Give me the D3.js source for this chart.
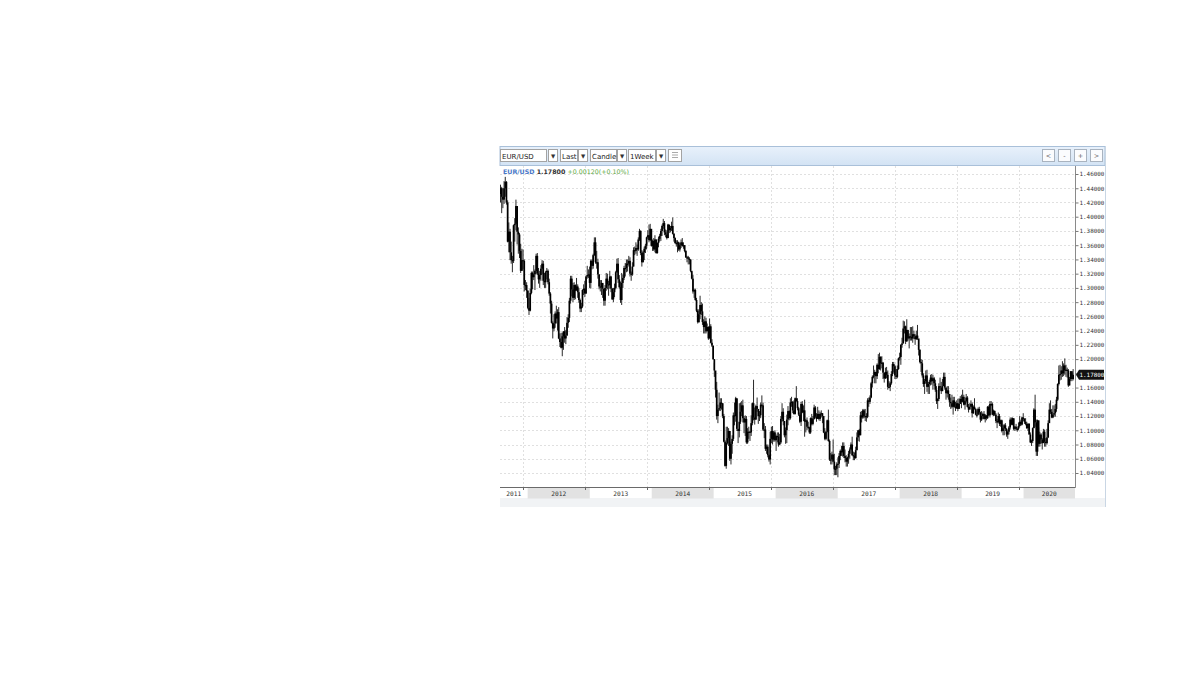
<!DOCTYPE html>
<html><head><meta charset="utf-8">
<script src="https://cdn.jsdelivr.net/npm/d3@7"></script>
<style>html,body{margin:0;padding:0;background:#fff;} svg{display:block}</style>
</head><body>
<svg id="c" width="1200" height="675"></svg>
<script>
// ---------------- data ----------------
const symbol = "EUR/USD";
const lastPrice = "1.17800";
const lastChange = "+0.00120(+0.10%)";
const toolbarFields = ["EUR/USD", "Last", "Candle", "1Week"];
const navButtons = ["<", "-", "+", ">"];
const yTickValues = [1.04,1.06,1.08,1.10,1.12,1.14,1.16,1.18,1.20,1.22,1.24,1.26,1.28,1.30,1.32,1.34,1.36,1.38,1.40,1.42,1.44,1.46];
const years = [2011,2012,2013,2014,2015,2016,2017,2018,2019,2020];
const firstWeek = new Date(2011, 6, 25);
const firstOpen = 1.432;
const closes = [
1.440,1.428,1.424,1.440,1.449,1.420,1.365,1.379,1.350,1.339,
1.338,1.388,1.390,1.415,1.379,1.375,1.352,1.324,1.339,1.338,
1.304,1.304,1.296,1.272,1.268,1.293,1.321,1.315,1.319,1.324,
1.345,1.320,1.312,1.318,1.327,1.334,1.310,1.308,1.322,1.324,
1.308,1.292,1.278,1.251,1.243,1.250,1.264,1.257,1.266,1.229,
1.224,1.216,1.232,1.239,1.229,1.233,1.251,1.258,1.282,1.313,
1.298,1.286,1.304,1.296,1.302,1.294,1.283,1.271,1.274,1.297,
1.299,1.292,1.316,1.318,1.319,1.307,1.338,1.331,1.346,1.364,
1.336,1.336,1.319,1.302,1.301,1.307,1.299,1.282,1.300,1.313,
1.305,1.304,1.316,1.299,1.284,1.294,1.300,1.322,1.334,1.312,
1.301,1.283,1.307,1.314,1.328,1.328,1.334,1.334,1.338,1.320,
1.319,1.330,1.353,1.352,1.356,1.354,1.368,1.380,1.349,1.336,
1.350,1.355,1.359,1.371,1.374,1.367,1.383,1.359,1.366,1.354,
1.368,1.349,1.363,1.369,1.373,1.380,1.387,1.391,1.378,1.375,
1.370,1.389,1.381,1.384,1.387,1.376,1.370,1.363,1.363,1.364,
1.354,1.360,1.364,1.359,1.360,1.352,1.343,1.343,1.341,1.340,
1.324,1.313,1.295,1.297,1.283,1.268,1.252,1.263,1.276,1.267,
1.252,1.245,1.253,1.239,1.245,1.229,1.246,1.223,1.219,1.200,
1.184,1.157,1.120,1.129,1.131,1.139,1.138,1.120,1.084,1.050,
1.082,1.089,1.099,1.060,1.081,1.088,1.121,1.120,1.145,1.102,
1.099,1.112,1.126,1.135,1.117,1.111,1.116,1.083,1.098,1.098,
1.097,1.110,1.138,1.118,1.115,1.134,1.130,1.120,1.121,1.136,
1.135,1.101,1.101,1.074,1.077,1.065,1.059,1.088,1.099,1.087,
1.097,1.086,1.092,1.091,1.080,1.083,1.116,1.126,1.113,1.093,
1.100,1.115,1.127,1.117,1.139,1.140,1.128,1.123,1.145,1.141,
1.131,1.122,1.112,1.137,1.125,1.128,1.112,1.114,1.105,1.104,
1.097,1.117,1.109,1.116,1.132,1.119,1.116,1.123,1.116,1.123,
1.124,1.120,1.097,1.088,1.098,1.114,1.085,1.059,1.059,1.066,
1.056,1.045,1.046,1.052,1.053,1.064,1.071,1.069,1.078,1.064,
1.061,1.056,1.062,1.067,1.073,1.080,1.065,1.064,1.061,1.072,
1.090,1.100,1.093,1.121,1.118,1.128,1.120,1.120,1.119,1.142,
1.140,1.146,1.166,1.175,1.177,1.182,1.176,1.192,1.186,1.203,
1.194,1.195,1.181,1.173,1.182,1.178,1.161,1.161,1.166,1.179,
1.193,1.190,1.177,1.175,1.186,1.201,1.203,1.220,1.222,1.243,
1.246,1.225,1.241,1.229,1.232,1.231,1.229,1.235,1.232,1.228,
1.233,1.229,1.213,1.196,1.194,1.177,1.165,1.169,1.177,1.161,
1.165,1.168,1.174,1.169,1.173,1.166,1.157,1.141,1.144,1.162,
1.160,1.155,1.162,1.175,1.160,1.152,1.156,1.151,1.140,1.138,
1.133,1.142,1.133,1.131,1.138,1.130,1.137,1.144,1.140,1.147,
1.136,1.141,1.146,1.133,1.129,1.133,1.137,1.124,1.133,1.130,
1.122,1.122,1.130,1.125,1.115,1.120,1.123,1.116,1.121,1.117,
1.133,1.121,1.137,1.137,1.122,1.127,1.122,1.113,1.111,1.120,
1.109,1.114,1.099,1.103,1.107,1.102,1.094,1.098,1.104,1.115,
1.108,1.117,1.102,1.105,1.102,1.102,1.106,1.112,1.108,1.118,
1.116,1.112,1.109,1.103,1.109,1.094,1.083,1.085,1.103,1.129,
1.111,1.070,1.114,1.081,1.094,1.087,1.082,1.098,1.084,1.082,
1.090,1.110,1.129,1.126,1.118,1.122,1.124,1.130,1.143,1.165,
1.178,1.179,1.184,1.180,1.191,1.184,1.185,1.184,1.163,1.172,
1.183,1.172,1.178];
const highs = [
1.445,1.442,1.440,1.450,1.456,1.450,1.423,1.392,1.383,1.365,
1.345,1.389,1.398,1.424,1.415,1.385,1.377,1.362,1.355,1.354,
1.340,1.311,1.308,1.297,1.286,1.299,1.323,1.323,1.332,1.326,
1.348,1.349,1.328,1.324,1.332,1.339,1.338,1.321,1.324,1.328,
1.326,1.313,1.294,1.282,1.253,1.263,1.267,1.275,1.270,1.273,
1.236,1.237,1.237,1.239,1.245,1.241,1.259,1.263,1.286,1.317,
1.317,1.307,1.308,1.305,1.314,1.305,1.300,1.285,1.279,1.298,
1.305,1.310,1.317,1.331,1.326,1.330,1.340,1.340,1.348,1.371,
1.371,1.352,1.341,1.319,1.311,1.311,1.306,1.299,1.304,1.321,
1.320,1.310,1.324,1.317,1.300,1.300,1.306,1.324,1.341,1.342,
1.318,1.309,1.321,1.319,1.331,1.335,1.340,1.340,1.345,1.343,
1.323,1.336,1.357,1.358,1.364,1.361,1.371,1.383,1.381,1.353,
1.352,1.358,1.362,1.372,1.381,1.389,1.390,1.382,1.368,1.370,
1.374,1.368,1.364,1.372,1.376,1.383,1.389,1.397,1.394,1.382,
1.381,1.390,1.386,1.387,1.393,1.399,1.377,1.371,1.367,1.367,
1.365,1.363,1.368,1.370,1.364,1.360,1.353,1.345,1.345,1.343,
1.340,1.322,1.318,1.299,1.299,1.286,1.270,1.270,1.289,1.280,
1.278,1.256,1.260,1.258,1.250,1.246,1.257,1.249,1.228,1.218,
1.195,1.183,1.168,1.136,1.153,1.145,1.145,1.138,1.123,1.086,
1.105,1.105,1.103,1.099,1.084,1.093,1.125,1.139,1.147,1.144,
1.101,1.138,1.139,1.141,1.143,1.120,1.121,1.120,1.103,1.105,
1.099,1.121,1.139,1.171,1.132,1.136,1.146,1.129,1.127,1.139,
1.149,1.139,1.110,1.106,1.080,1.080,1.066,1.098,1.105,1.106,
1.099,1.100,1.094,1.097,1.097,1.095,1.120,1.138,1.131,1.113,
1.104,1.122,1.134,1.128,1.145,1.147,1.141,1.142,1.146,1.162,
1.145,1.133,1.125,1.140,1.141,1.135,1.143,1.116,1.118,1.112,
1.105,1.118,1.123,1.120,1.136,1.134,1.124,1.133,1.128,1.126,
1.128,1.124,1.114,1.103,1.099,1.115,1.129,1.087,1.068,1.070,
1.087,1.067,1.050,1.055,1.062,1.068,1.073,1.078,1.083,1.083,
1.073,1.065,1.063,1.071,1.076,1.083,1.091,1.070,1.069,1.077,
1.097,1.100,1.102,1.126,1.127,1.130,1.130,1.130,1.124,1.145,
1.146,1.149,1.168,1.177,1.191,1.185,1.182,1.194,1.207,1.209,
1.204,1.204,1.196,1.180,1.188,1.189,1.184,1.169,1.168,1.183,
1.196,1.196,1.192,1.186,1.191,1.202,1.209,1.221,1.230,1.254,
1.253,1.247,1.256,1.238,1.236,1.245,1.245,1.246,1.240,1.235,
1.240,1.248,1.227,1.214,1.200,1.199,1.180,1.172,1.184,1.185,
1.168,1.171,1.178,1.179,1.178,1.175,1.171,1.162,1.145,1.166,
1.174,1.168,1.172,1.181,1.181,1.160,1.162,1.162,1.151,1.146,
1.150,1.147,1.147,1.140,1.142,1.144,1.145,1.148,1.150,1.157,
1.150,1.142,1.151,1.148,1.137,1.138,1.142,1.139,1.135,1.145,
1.131,1.128,1.132,1.133,1.126,1.127,1.125,1.127,1.123,1.121,
1.134,1.135,1.141,1.141,1.139,1.129,1.128,1.124,1.116,1.125,
1.123,1.115,1.115,1.108,1.109,1.110,1.103,1.100,1.106,1.118,
1.118,1.118,1.116,1.106,1.109,1.104,1.111,1.120,1.115,1.119,
1.124,1.117,1.117,1.112,1.110,1.110,1.097,1.087,1.104,1.131,
1.150,1.115,1.115,1.104,1.098,1.096,1.089,1.102,1.101,1.089,
1.102,1.114,1.138,1.142,1.130,1.135,1.135,1.137,1.147,1.166,
1.191,1.192,1.190,1.197,1.194,1.201,1.192,1.188,1.186,1.175,
1.183,1.180,1.186];
const lows = [
1.420,1.405,1.412,1.418,1.428,1.417,1.364,1.350,1.339,1.334,
1.322,1.335,1.365,1.381,1.361,1.348,1.342,1.321,1.324,1.326,
1.295,1.297,1.286,1.270,1.262,1.267,1.291,1.298,1.311,1.297,
1.320,1.318,1.306,1.300,1.310,1.319,1.304,1.300,1.300,1.312,
1.305,1.289,1.264,1.250,1.229,1.239,1.244,1.250,1.240,1.228,
1.217,1.215,1.204,1.213,1.223,1.221,1.233,1.244,1.252,1.278,
1.288,1.280,1.283,1.284,1.297,1.286,1.279,1.266,1.266,1.272,
1.290,1.287,1.292,1.313,1.314,1.300,1.299,1.326,1.327,1.345,
1.334,1.327,1.313,1.298,1.295,1.290,1.286,1.275,1.275,1.296,
1.298,1.289,1.299,1.294,1.283,1.280,1.287,1.298,1.321,1.307,
1.299,1.279,1.276,1.300,1.311,1.316,1.322,1.323,1.330,1.316,
1.310,1.317,1.330,1.346,1.348,1.345,1.352,1.366,1.346,1.330,
1.336,1.339,1.349,1.354,1.369,1.364,1.366,1.358,1.352,1.352,
1.350,1.348,1.348,1.357,1.365,1.366,1.373,1.383,1.374,1.371,
1.368,1.370,1.377,1.378,1.380,1.375,1.365,1.362,1.358,1.350,
1.352,1.351,1.356,1.358,1.355,1.350,1.342,1.336,1.333,1.333,
1.322,1.312,1.292,1.286,1.282,1.266,1.250,1.251,1.256,1.262,
1.248,1.236,1.236,1.236,1.240,1.227,1.229,1.222,1.217,1.199,
1.175,1.146,1.115,1.110,1.127,1.127,1.129,1.117,1.083,1.049,
1.046,1.080,1.078,1.057,1.052,1.067,1.085,1.107,1.112,1.099,
1.082,1.090,1.109,1.120,1.111,1.096,1.092,1.081,1.081,1.088,
1.085,1.092,1.107,1.114,1.108,1.115,1.126,1.109,1.113,1.117,
1.132,1.099,1.089,1.071,1.067,1.062,1.056,1.052,1.082,1.080,
1.084,1.084,1.071,1.083,1.077,1.079,1.081,1.112,1.107,1.090,
1.081,1.082,1.107,1.114,1.115,1.133,1.124,1.122,1.122,1.140,
1.128,1.120,1.110,1.106,1.124,1.113,1.091,1.097,1.100,1.102,
1.095,1.095,1.107,1.107,1.115,1.117,1.112,1.118,1.114,1.113,
1.118,1.110,1.096,1.086,1.086,1.097,1.084,1.057,1.052,1.052,
1.055,1.037,1.037,1.037,1.034,1.047,1.058,1.064,1.063,1.061,
1.055,1.049,1.049,1.053,1.060,1.072,1.064,1.058,1.058,1.060,
1.072,1.085,1.084,1.093,1.111,1.116,1.117,1.113,1.112,1.117,
1.133,1.137,1.145,1.160,1.173,1.166,1.166,1.172,1.180,1.185,
1.184,1.187,1.172,1.167,1.172,1.173,1.157,1.160,1.155,1.164,
1.176,1.181,1.172,1.172,1.173,1.185,1.198,1.192,1.216,1.222,
1.236,1.221,1.224,1.226,1.215,1.226,1.226,1.223,1.228,1.220,
1.227,1.227,1.205,1.194,1.182,1.174,1.161,1.151,1.166,1.154,
1.151,1.151,1.163,1.164,1.157,1.162,1.154,1.137,1.130,1.141,
1.156,1.151,1.155,1.162,1.157,1.143,1.146,1.143,1.133,1.130,
1.131,1.122,1.132,1.127,1.130,1.127,1.131,1.138,1.131,1.139,
1.135,1.129,1.139,1.132,1.125,1.130,1.133,1.118,1.123,1.129,
1.121,1.118,1.121,1.122,1.111,1.113,1.116,1.115,1.111,1.114,
1.116,1.120,1.118,1.134,1.121,1.120,1.120,1.110,1.103,1.111,
1.106,1.105,1.097,1.093,1.093,1.099,1.091,1.088,1.094,1.101,
1.107,1.107,1.100,1.099,1.100,1.098,1.100,1.104,1.106,1.107,
1.113,1.109,1.107,1.102,1.099,1.094,1.082,1.078,1.082,1.103,
1.105,1.064,1.064,1.077,1.077,1.081,1.073,1.082,1.077,1.077,
1.080,1.089,1.111,1.123,1.117,1.117,1.119,1.119,1.126,1.141,
1.163,1.170,1.171,1.175,1.176,1.178,1.175,1.174,1.161,1.163,
1.169,1.169,1.170];

// ---------------- layout ----------------
const svg = d3.select("#c");
const F = {l: 500, r: 1105, t: 146, b: 507};
const P = {l: 500, r: 1075, t: 166, b: 487};
const weekPx = 1.188;
const mono = "'DejaVu Sans Mono', 'Liberation Mono', monospace";
const sans = "'DejaVu Sans', Verdana, sans-serif";

const candles = closes.map((c, i) => ({
  date: d3.timeWeek.offset(firstWeek, i),
  open: i === 0 ? firstOpen : closes[i - 1],
  high: highs[i], low: lows[i], close: c
}));

const x = d3.scaleTime()
  .domain([firstWeek, d3.timeWeek.offset(firstWeek, closes.length - 1)])
  .range([P.l + 0.5, P.l + 0.5 + (closes.length - 1) * weekPx]);
const y = d3.scaleLinear().domain([1.04, 1.46]).range([473, 174]);

// frame background
svg.append("rect").attr("x", F.l).attr("y", F.t).attr("width", F.r - F.l).attr("height", F.b - F.t)
  .attr("fill", "#ffffff");
svg.append("rect").attr("x", F.l).attr("y", 498).attr("width", F.r - F.l).attr("height", F.b - 498)
  .attr("fill", "#f1f3f5");

// toolbar
const defs = svg.append("defs");
const g1 = defs.append("linearGradient").attr("id", "tb").attr("x1", 0).attr("y1", 0).attr("x2", 0).attr("y2", 1);
g1.append("stop").attr("offset", "0%").attr("stop-color", "#e8f1fb");
g1.append("stop").attr("offset", "100%").attr("stop-color", "#d3e3f4");
svg.append("rect").attr("x", F.l).attr("y", F.t + 0.5).attr("width", F.r - F.l).attr("height", 19)
  .attr("fill", "url(#tb)").attr("stroke", "#a9c0d9").attr("stroke-width", 1);

const fieldBoxes = [[500.5, 46], [560.5, 17], [590.5, 26], [628.5, 27]];
const arrowBoxes = [548.5, 578.5, 617.5, 656.5];
fieldBoxes.forEach(([bx, bw], i) => {
  svg.append("rect").attr("x", bx).attr("y", 149.5).attr("width", bw).attr("height", 12)
    .attr("fill", "#fff").attr("stroke", "#a3a3a3");
  svg.append("text").attr("x", bx + 1.5).attr("y", 158.6).attr("font-family", sans)
    .attr("font-size", 7).attr("fill", "#222").text(toolbarFields[i]);
  svg.append("rect").attr("x", arrowBoxes[i]).attr("y", 149.5).attr("width", 9).attr("height", 12)
    .attr("fill", "#fff").attr("stroke", "#a3a3a3");
  svg.append("text").attr("x", arrowBoxes[i] + 4.5).attr("y", 158).attr("text-anchor", "middle")
    .attr("font-family", sans).attr("font-size", 5.5).attr("fill", "#333").text("▼");
});
svg.append("rect").attr("x", 668.5).attr("y", 149.5).attr("width", 13).attr("height", 12)
  .attr("fill", "#fff").attr("stroke", "#a3a3a3");
[152.5, 155, 157.5].forEach(yy => {
  svg.append("line").attr("x1", 672).attr("x2", 678).attr("y1", yy).attr("y2", yy)
    .attr("stroke", "#aaa").attr("stroke-width", 1);
});
navButtons.forEach((b, i) => {
  const bx = 1042.5 + i * 16;
  svg.append("rect").attr("x", bx).attr("y", 149.5).attr("width", 12).attr("height", 12)
    .attr("fill", "#fbfcfe").attr("stroke", "#a9b3bf");
  svg.append("text").attr("x", bx + 6).attr("y", 158).attr("text-anchor", "middle")
    .attr("font-family", sans).attr("font-size", 6.5).attr("fill", "#666").text(b);
});

// grid
const yearTickX = d => Math.round(x(d) - 4.5) + 0.5;
const yearTicks = years.slice(1).map(yr => new Date(yr, 0, 1)).filter(d => x(d) < P.r);
svg.append("g").selectAll("line").data(yTickValues).join("line")
  .attr("x1", P.l).attr("x2", P.r).attr("y1", d => Math.round(y(d)) + 0.5).attr("y2", d => Math.round(y(d)) + 0.5)
  .attr("stroke", "#e0e0e0").attr("stroke-dasharray", "2,2");
svg.append("g").selectAll("line").data(yearTicks).join("line")
  .attr("x1", yearTickX).attr("x2", yearTickX).attr("y1", P.t).attr("y2", P.b)
  .attr("stroke", "#e0e0e0").attr("stroke-dasharray", "2,2");

// header text
const hdr = svg.append("text").attr("x", 503).attr("y", 174.3).attr("font-family", sans)
  .attr("font-size", 6.3).attr("font-weight", "bold");
hdr.append("tspan").attr("fill", "#4a78c8").text(symbol + " ");
hdr.append("tspan").attr("fill", "#333").text(lastPrice + " ");
hdr.append("tspan").attr("fill", "#5aa83c").attr("font-weight", "normal").text(lastChange);

// candles
defs.append("clipPath").attr("id", "pc").append("rect")
  .attr("x", P.l).attr("y", P.t).attr("width", P.r - P.l).attr("height", P.b - P.t);
const cg = svg.append("g").attr("clip-path", "url(#pc)");
cg.selectAll("line.w").data(candles).join("line").attr("class", "w")
  .attr("x1", d => x(d.date)).attr("x2", d => x(d.date))
  .attr("y1", d => y(d.high)).attr("y2", d => y(d.low))
  .attr("stroke", "#2a2a2a").attr("stroke-width", 1);
cg.selectAll("rect.b").data(candles).join("rect").attr("class", "b")
  .attr("x", d => x(d.date) - 0.85).attr("width", 1.7)
  .attr("y", d => Math.min(y(d.open), y(d.close)))
  .attr("height", d => Math.max(1.2, Math.abs(y(d.open) - y(d.close))))
  .attr("fill", "#000");

// axes frame
svg.append("line").attr("x1", P.r + 0.5).attr("x2", P.r + 0.5).attr("y1", P.t).attr("y2", P.b + 0.5)
  .attr("stroke", "#8a8a8a");
svg.append("line").attr("x1", P.l).attr("x2", P.r + 0.5).attr("y1", P.b + 0.5).attr("y2", P.b + 0.5)
  .attr("stroke", "#6a6a6a");

// y axis labels
const ya = svg.append("g").attr("transform", `translate(${P.r + 0.5},0)`)
  .call(d3.axisRight(y).tickValues(yTickValues).tickFormat(d3.format(".5f")).tickSize(3).tickPadding(1));
ya.select(".domain").remove();
ya.selectAll(".tick line").attr("stroke", "#777");
ya.selectAll(".tick text").attr("font-family", mono).attr("font-size", 5.9).attr("fill", "#333");

// x axis year bands
const bandY = P.b + 1, bandH = 10.5;
years.forEach((yr, i) => {
  const x0 = Math.max(P.l, x(new Date(yr, 0, 1)));
  const x1 = Math.min(P.r, x(new Date(yr + 1, 0, 1)));
  if (x1 <= x0) return;
  if (yr % 2 === 0) {
    svg.append("rect").attr("x", x0).attr("y", bandY).attr("width", x1 - x0).attr("height", bandH)
      .attr("fill", "#e2e2e2");
  }
  svg.append("text").attr("x", (x0 + x1) / 2).attr("y", bandY + 7.6).attr("text-anchor", "middle")
    .attr("font-family", mono).attr("font-size", 6.2).attr("fill", "#333").text(yr);
});
svg.append("g").selectAll("line").data(yearTicks).join("line")
  .attr("x1", yearTickX).attr("x2", yearTickX).attr("y1", P.b).attr("y2", P.b + 3)
  .attr("stroke", "#666");

// last price marker
const yp = y(+lastPrice);
svg.append("path")
  .attr("d", `M${P.r + 1},${yp} L${P.r + 4},${yp - 5} L1104,${yp - 5} L1104,${yp + 5} L${P.r + 4},${yp + 5} Z`)
  .attr("fill", "#111");
svg.append("text").attr("x", P.r + 4.5).attr("y", yp + 2.2).attr("font-family", mono)
  .attr("font-size", 5.9).attr("fill", "#fff").text(lastPrice);

// outer right border
svg.append("line").attr("x1", F.r + 0.5).attr("x2", F.r + 0.5).attr("y1", F.t).attr("y2", F.b)
  .attr("stroke", "#c9d6e4");
</script>
</body></html>
